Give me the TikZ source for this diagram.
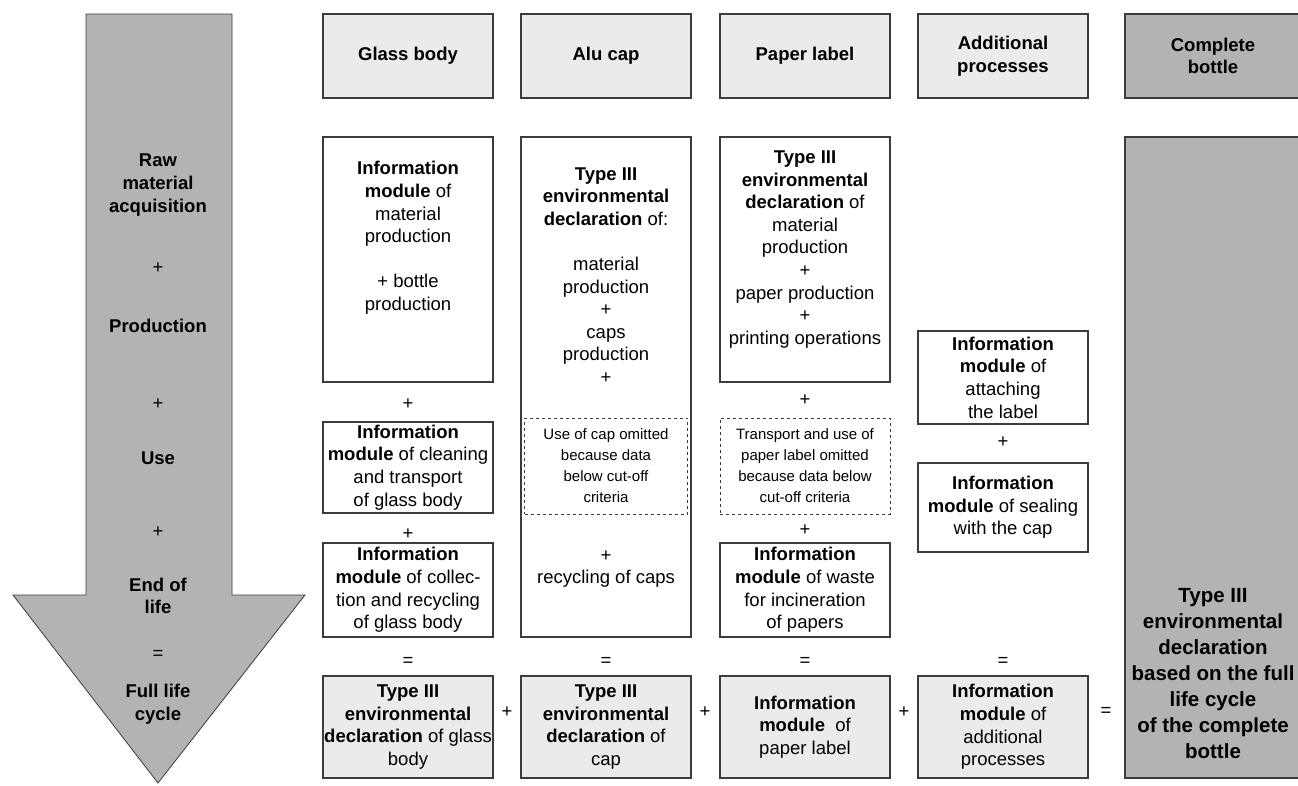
\documentclass[tikz,border=0pt]{standalone}
\usepackage{fontspec}
\setmainfont{Liberation Sans}
\definecolor{arrowgray}{HTML}{B3B3B3}
\definecolor{hdrgray}{HTML}{EBEBEB}
\definecolor{linegray}{HTML}{3C3C3C}

\begin{document}
\begin{tikzpicture}[x=1pt,y=-1pt,
    every node/.style={align=center,inner sep=0pt,font=\fontsize{18.5}{22.6}\selectfont},
    hdrbox/.style={draw=linegray,line width=1.2pt,fill=hdrgray,minimum width=170pt,minimum height=84pt},
    modbox/.style={draw=linegray,line width=1.2pt,fill=white,minimum width=170pt},
    sumbox/.style={draw=linegray,line width=1.2pt,fill=hdrgray,minimum width=170pt,minimum height=102pt},
    cutbox/.style={draw=linegray,dashed,line width=0.8pt,minimum height=96pt,font=\fontsize{15}{21}\selectfont},
    darkbox/.style={draw=linegray,line width=1.2pt,fill=arrowgray,minimum width=176pt}]
    \useasboundingbox (0,0) rectangle (1298,785);

    % life cycle arrow
    \draw[linegray,line width=0.8pt,fill=arrowgray] (86,14) -- (232,14) -- (232,595) -- (305,595)
        -- (158,783) -- (13,595) -- (86,595) -- cycle;
    \node[font=\fontsize{18.5}{22.6}\selectfont\bfseries] (raw) at (158,185) {Raw\\material\\acquisition};
    \node (pl1) at (158,268) {+};
    \node[font=\fontsize{18.5}{22.6}\selectfont\bfseries] (prod) at (158,326) {Production};
    \node (pl2) at (158,404) {+};
    \node[font=\fontsize{18.5}{22.6}\selectfont\bfseries] (use) at (158,458) {Use};
    \node (pl3) at (158,532) {+};
    \node[font=\fontsize{18.5}{22.6}\selectfont\bfseries] (eol) at (158,596) {End of\\life};
    \node (eq0) at (158,655) {=};
    \node[font=\fontsize{18.5}{22.6}\selectfont\bfseries] (full) at (158,704) {Full life\\cycle};

    % headers
    \node[hdrbox] (glass) at (408,56) {\textbf{Glass body}};
    \node[hdrbox] (alu) at (606,56) {\textbf{Alu cap}};
    \node[hdrbox] (paper) at (805,56) {\textbf{Paper label}};
    \node[hdrbox] (addit) at (1003,56) {\textbf{Additional}\\\textbf{processes}};
    \node[darkbox,minimum height=84pt] (bottle) at (1213,56) {\textbf{Complete}\\\textbf{bottle}};

    % glass body
    \node[modbox,minimum height=245pt] (gmat) at (408,259.5) {};
    \node (gmattxt) at (408,238) {\textbf{Information}\\\textbf{module} of\\material\\production\\[22.6pt]+ bottle\\production};
    \node (gp1) at (408,404) {+};
    \node[modbox,minimum height=91pt] (gclean) at (408,467.5)
        {\textbf{Information}\\\textbf{module} of cleaning\\and transport\\of glass body};
    \node (gp2) at (408,534) {+};
    \node[modbox,minimum height=94pt] (grec) at (408,590)
        {\textbf{Information}\\\textbf{module} of collec-\\tion and recycling\\of glass body};

    % alu cap
    \node[modbox,minimum height=500pt] (acap) at (606,387) {};
    \node (acaptxt) at (606,275.5) {\textbf{Type III}\\\textbf{environmental}\\\textbf{declaration} of:\\[22.6pt]material\\production\\+\\caps\\production\\+};
    \node[cutbox,minimum width=163pt] (acut) at (606,466) {Use of cap omitted\\because data\\below cut-off\\criteria};
    \node (arec) at (606,569) {+\\recycling of caps};

    % paper label
    \node[modbox,minimum height=245pt] (pmat) at (805,259.5) {};
    \node (pmattxt) at (805,249.5) {\textbf{Type III}\\\textbf{environmental}\\\textbf{declaration} of\\material\\production\\+\\paper production\\+\\printing operations};
    \node (pp1) at (805,400) {+};
    \node[cutbox,minimum width=170pt] (pcut) at (805,466) {Transport and use of\\paper label omitted\\because data below\\cut-off criteria};
    \node (pp2) at (805,530) {+};
    \node[modbox,minimum height=94pt] (pwaste) at (805,590)
        {\textbf{Information}\\\textbf{module} of waste\\for incineration\\of papers};

    % additional processes
    \node[modbox,minimum height=93pt] (attach) at (1003,377.5)
        {\textbf{Information}\\\textbf{module} of\\attaching\\the label};
    \node (ap1) at (1003,442) {+};
    \node[modbox,minimum height=89pt] (seal) at (1003,507.5)
        {\textbf{Information}\\\textbf{module} of sealing\\with the cap};

    % results
    \foreach \x/\n in {408/eqa,606/eqb,805/eqc,1003/eqd}
    \node (\n) at (\x,662) {=};
    \node[sumbox] (gsum) at (408,727) {\textbf{Type III}\\\textbf{environmental}\\\textbf{declaration} of glass\\body};
    \node[sumbox] (asum) at (606,727) {\textbf{Type III}\\\textbf{environmental}\\\textbf{declaration} of\\cap};
    \node[sumbox] (psum) at (805,727) {\textbf{Information}\\\textbf{module}\ \ of\\paper label};
    \node[sumbox] (dsum) at (1003,727) {\textbf{Information}\\\textbf{module} of\\additional\\processes};
    \foreach \x/\n in {507/sa,705/sb,904/sc}
    \node (\n) at (\x,712) {+};
    \node (eqt) at (1106,712) {=};

    % complete bottle
    \node[darkbox,minimum height=641pt] (total) at (1213,457.5) {};
    \node[font=\fontsize{20.5}{26}\selectfont\bfseries] (totaltxt) at (1213,673.5)
        {Type III\\environmental\\declaration\\based on the full\\life cycle\\of the complete\\bottle};
\end{tikzpicture}
\end{document}
